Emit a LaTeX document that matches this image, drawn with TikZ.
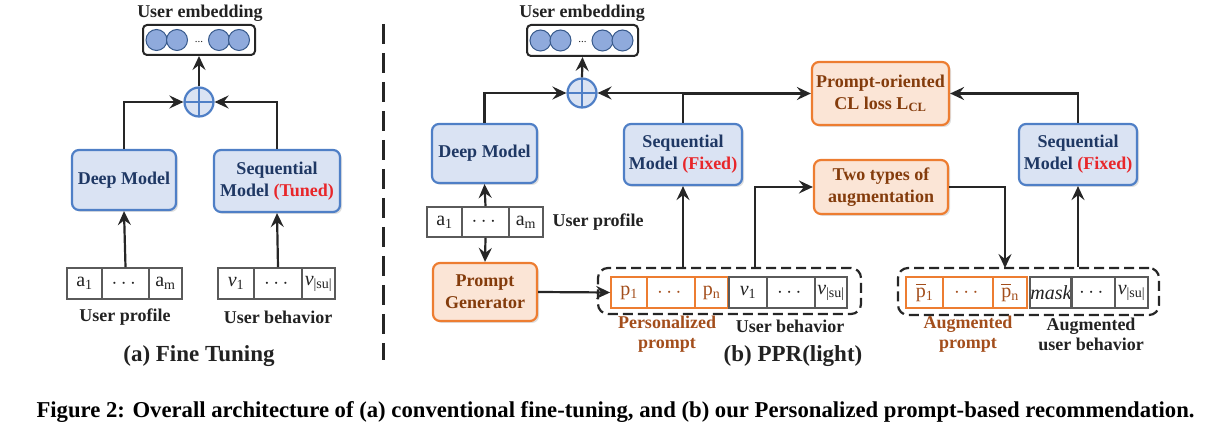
\documentclass[tikz,border=0pt]{standalone}
\usepackage{amsmath}
\usepackage{fontspec}
\setmainfont{Liberation Serif}
\usepackage{tikz}
\usetikzlibrary{arrows.meta,shadows}

\definecolor{boxblue}{HTML}{4F7FC6}
\definecolor{boxfill}{HTML}{DAE3F3}
\definecolor{boxtext}{HTML}{1F3864}
\definecolor{orline}{HTML}{ED7D31}
\definecolor{orfill}{HTML}{FBE5D6}
\definecolor{ortext}{HTML}{843C0C}
\definecolor{orlabel}{HTML}{A34E1C}
\definecolor{redtext}{HTML}{E8262A}
\definecolor{darktext}{HTML}{222222}
\definecolor{embcirc}{HTML}{8FAADC}
\definecolor{cellgray}{HTML}{5A5A5A}
\definecolor{linec}{HTML}{262626}

\tikzset{
  modelbox/.style={draw=boxblue, fill=boxfill, line width=2.2pt, rounded corners=7pt,
    text=boxtext, align=center, inner sep=0pt, font=\fontsize{18}{22}\selectfont\bfseries,
    drop shadow={shadow xshift=2pt, shadow yshift=-2pt, opacity=0.25}},
  promptbox/.style={modelbox, draw=orline, fill=orfill, text=ortext},
  cell/.style={draw=cellgray, line width=1.8pt, minimum height=31pt, inner sep=0pt,
    text=darktext, font=\fontsize{20}{21}\selectfont},
  pcell/.style={cell, draw=orline, text=orlabel},
  seqframe/.style={draw=linec, line width=2.2pt, dash pattern=on 10pt off 5pt,
    rounded corners=10pt, inner sep=0pt},
  embbox/.style={draw=linec, line width=2pt, rounded corners=4pt, fill=white,
    minimum width=112pt, minimum height=30pt, inner sep=0pt},
  embdot/.style={circle, draw=boxblue!70!black, fill=embcirc, line width=1pt,
    minimum size=21pt, inner sep=0pt},
  addnode/.style={circle, draw=boxblue, fill=boxfill, line width=2.2pt, minimum size=29pt,
    inner sep=0pt, path picture={
      \draw[boxblue, line width=2pt] (path picture bounding box.north) -- (path picture bounding box.south)
        (path picture bounding box.west) -- (path picture bounding box.east);}},
  lbl/.style={text=darktext, align=center, font=\fontsize{18}{20}\selectfont\bfseries},
  plbl/.style={lbl, text=orlabel},
  sub/.style={text=darktext, font=\fontsize{23}{26}\selectfont\bfseries},
  arr/.style={draw=linec, line width=2.2pt, -{Stealth[length=14pt,width=13pt,inset=5pt]}},
  conn/.style={draw=linec, line width=2.2pt}
}

\begin{document}
\begin{tikzpicture}[x=1pt, y=-1pt]
  \useasboundingbox (0,0) rectangle (1232,435);

  % (a) fine tuning
  \node[lbl] (titleEmbA) at (200,13) {User embedding};
  \node[embbox] (embA) at (199,40) {};
  \foreach \dx [count=\i] in {-42.5,-22,20,40}
    \node[embdot] (embA\i) at ([xshift=\dx pt]embA.center) {};
  \node[font=\fontsize{11}{11}\selectfont, text=darktext] (embAdots) at ([yshift=-2pt]embA.center) {...};
  \node[addnode] (addA) at (199,102) {};

  \node[modelbox, minimum width=104pt, minimum height=60pt] (deepA) at (124,180) {Deep Model};
  \node[modelbox, minimum width=126pt, minimum height=62pt] (seqA) at (277,181)
    {Sequential\\Model \textcolor{redtext}{(Tuned)}};

  \node[cell, minimum width=35pt] (profA1) at (84.5,283.5) {a\textsubscript{1}};
  \node[cell, minimum width=47pt] (profA2) at (125.5,283.5) {$\cdots$};
  \node[cell, minimum width=33pt] (profA3) at (165.5,283.5) {a\textsubscript{m}};
  \node[cell, minimum width=36pt] (behA1) at (236,283.5) {\textit{v}\textsubscript{1}};
  \node[cell, minimum width=48pt] (behA2) at (278,283.5) {$\cdots$};
  \node[cell, minimum width=33pt] (behA3) at (318.5,283.5) {\textit{v}\textsubscript{|su|}};
  \node[lbl] (profAlbl) at (125,317) {User profile};
  \node[lbl] (behAlbl) at (278,317) {User behavior};
  \node[sub] (capA) at (199,356) {(a) Fine Tuning};

  \draw[arr] (profA2.north) -- (deepA.south);
  \draw[arr] (behA2.north) -- (seqA.south);
  \draw[arr] (deepA.north) |- (addA.west);
  \draw[arr] (seqA.north) |- (addA.east);
  \draw[arr] (addA.north) -- (embA.south);

  % separator
  \coordinate (sepTop) at (383,24);
  \coordinate (sepBot) at (383,360);
  \draw[linec, line width=3pt, dash pattern=on 20pt off 9pt] (sepTop) -- (sepBot);

  % (b) PPR(light)
  \node[lbl] (titleEmbB) at (582,13) {User embedding};
  \node[embbox, minimum width=111pt, minimum height=31pt] (embB) at (582.5,40.5) {};
  \foreach \dx [count=\i] in {-42,-22,20,40}
    \node[embdot] (embB\i) at ([xshift=\dx pt]embB.center) {};
  \node[font=\fontsize{11}{11}\selectfont, text=darktext] (embBdots) at ([yshift=-2pt]embB.center) {...};
  \node[addnode] (addB) at (582,93) {};

  \node[modelbox, minimum width=105pt, minimum height=59pt] (deepB) at (484.5,153.5) {Deep Model};
  \node[modelbox, minimum width=118pt, minimum height=61pt] (seqB) at (683,154.5)
    {Sequential\\Model \textcolor{redtext}{(Fixed)}};
  \node[modelbox, minimum width=118pt, minimum height=61pt] (seqC) at (1078,154.5)
    {Sequential\\Model \textcolor{redtext}{(Fixed)}};
  \node[promptbox, minimum width=137pt, minimum height=63pt] (clLoss) at (880.5,93.5)
    {Prompt-oriented\\CL loss L\textsubscript{CL}};
  \node[promptbox, minimum width=134pt, minimum height=54pt] (augBox) at (881,187)
    {Two types of\\augmentation};
  \node[promptbox, minimum width=104pt, minimum height=58pt] (promptGen) at (485,292)
    {Prompt\\Generator};

  \node[cell, minimum width=35pt, minimum height=30pt] (profB1) at (444.5,222) {a\textsubscript{1}};
  \node[cell, minimum width=47pt, minimum height=30pt] (profB2) at (485.5,222) {$\cdots$};
  \node[cell, minimum width=34pt, minimum height=30pt] (profB3) at (526,222) {a\textsubscript{m}};
  \node[lbl, anchor=west] (profBlbl) at (549,222) {User profile};

  \node[seqframe, minimum width=263pt, minimum height=46pt] (frameB) at (729.5,291) {};
  \node[pcell, minimum width=36pt] (pB1) at (629,292.5) {p\textsubscript{1}};
  \node[pcell, minimum width=48pt] (pB2) at (671,292.5) {$\cdots$};
  \node[pcell, minimum width=33pt] (pB3) at (711.5,292.5) {p\textsubscript{n}};
  \node[cell, minimum width=38pt] (vB1) at (748,292.5) {\textit{v}\textsubscript{1}};
  \node[cell, minimum width=48pt] (vB2) at (791,292.5) {$\cdots$};
  \node[cell, minimum width=32pt] (vB3) at (831,292.5) {\textit{v}\textsubscript{|su|}};
  \node[plbl] (pBlbl) at (667,334) {Personalized\\prompt};
  \node[lbl] (vBlbl) at (790,326) {User behavior};
  \node[sub] (capB) at (793,356) {(b) PPR(light)};

  \node[seqframe, minimum width=261pt, minimum height=47pt] (frameC) at (1028.5,291.5) {};
  \node[pcell, minimum width=37pt] (pC1) at (924.5,292.5) {$\overline{\text{p}}$\textsubscript{1}};
  \node[pcell, minimum width=50pt] (pC2) at (968,292.5) {$\cdots$};
  \node[pcell, minimum width=34pt] (pC3) at (1010,292.5) {$\overline{\text{p}}$\textsubscript{n}};
  \node[cell, minimum width=40pt] (vC1) at (1051,292.5) {\textit{mask}};
  \node[cell, minimum width=44pt] (vC2) at (1093,292.5) {$\cdots$};
  \node[cell, minimum width=33pt] (vC3) at (1131.5,292.5) {\textit{v}\textsubscript{|su|}};
  \node[plbl] (pClbl) at (968,334) {Augmented\\prompt};
  \node[lbl] (vClbl) at (1091,334) {Augmented\\user behavior};

  \coordinate (tapB) at (755,268);
  \coordinate (tapC) at (1005,268);

  \draw[arr] (profB2.north) -- (deepB.south);
  \draw[arr] (profB2.south) -- (promptGen.north);
  \draw[arr] (promptGen.east) -- (pB1.west);
  \draw[arr] (deepB.north) |- (addB.west);
  \draw[arr] (seqB.north) |- (addB.east);
  \draw[arr] (seqB.north) |- (clLoss.west);
  \draw[arr] (addB.north) -- (embB.south);
  \draw[arr] (seqB.south |- frameB.north) -- (seqB.south);
  \draw[arr] (tapB) |- (augBox.west);
  \draw[arr] (augBox.east) -| (tapC);
  \draw[arr] (seqC.south |- frameC.north) -- (seqC.south);
  \draw[arr] (seqC.north) |- (clLoss.east);

  % caption
  \node[anchor=west, text=black, font=\fontsize{22.7}{26}\selectfont\bfseries] (caption) at (33,412)
    {Figure 2: Overall architecture of (a) conventional fine-tuning, and (b) our Personalized prompt-based recommendation.};
\end{tikzpicture}
\end{document}
